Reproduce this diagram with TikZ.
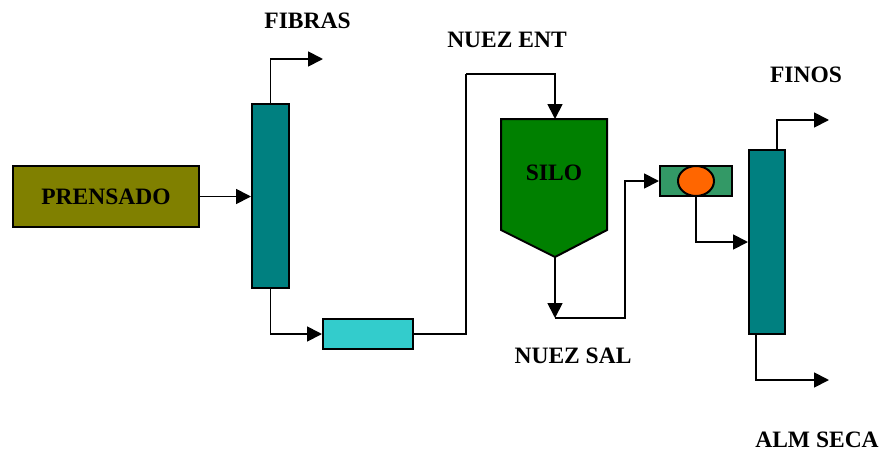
\documentclass[tikz,border=0pt]{standalone}
\usepackage{fontspec}
\setmainfont{Liberation Serif}
\usetikzlibrary{arrows.meta,shapes.geometric}
\definecolor{cOlive}{HTML}{808000}
\definecolor{cTeal}{HTML}{008080}
\definecolor{cCyan}{HTML}{33CCCC}
\definecolor{cSilo}{HTML}{008000}
\definecolor{cSep}{HTML}{339966}
\definecolor{cOrange}{HTML}{FF6600}
\tikzset{
  unit/.style={draw=black, line width=2pt, inner sep=0pt},
  lbl/.style={font=\fontsize{23.5}{28}\selectfont\bfseries, inner sep=0pt, anchor=base},
  conn/.style={line width=1.8pt, -{Triangle[length=15pt,width=15pt]}},
  plain/.style={line width=1.8pt},
}
\begin{document}
\begin{tikzpicture}[x=1pt,y=-1pt]
\useasboundingbox (0,0) rectangle (886,453);
% units
\node[unit, fill=cOlive, minimum width=186pt, minimum height=61pt] (prensado) at (106,196.5) {};
\node[lbl] (prensadoT) at (106,204) {PRENSADO};
\node[unit, fill=cTeal, minimum width=37pt, minimum height=184pt] (col1) at (270.5,196) {};
\node[unit, fill=cCyan, minimum width=90pt, minimum height=30pt] (cyan) at (368,334) {};
% silo
\draw[line width=2pt, fill=cSilo] (501,119) -- (607,119) -- (607,230) -- (555,257) -- (501,230) -- cycle;
\coordinate (silotop) at (555,119);
\coordinate (silobot) at (555,257);
\node[lbl] (siloT) at (554,180.7) {SILO};
% separator
\node[unit, fill=cSep, minimum width=72pt, minimum height=30pt] (sep) at (696,181) {};
\node[draw=black, line width=2pt, fill=cOrange, ellipse, inner sep=0pt, minimum width=36pt, minimum height=30pt] (ell) at (696,181) {};
\node[unit, fill=cTeal, minimum width=36pt, minimum height=184pt] (col2) at (767,242) {};
% free ends
\coordinate (fibEnd) at (323,59);
\coordinate (j1) at (466,74);
\coordinate (nsal) at (555,318);
\coordinate (j2) at (625,250);
\coordinate (finEnd) at (829,120);
\coordinate (almEnd) at (829,380);
% connectors
\draw[conn] (prensado.east) -- (prensado.east -| col1.west);
\draw[conn] (col1.north) |- (fibEnd);
\draw[conn] (col1.south) |- (cyan.west);
\draw[plain] (cyan.east) -| (j1);
\draw[conn] (j1) -| (silotop);
\draw[conn] (silobot) -- (nsal);
\draw[plain] (nsal) -| (j2);
\draw[conn] (j2) |- (sep.west);
\draw[conn] (ell.south) |- (col2.west);
\draw[conn] ([xshift=-9pt]col2.north east) |- (finEnd);
\draw[conn] ([xshift=8pt]col2.south west) |- (almEnd);
% labels
\node[lbl] (fibras) at (307.5,28.3) {FIBRAS};
\node[lbl] (nent) at (507,47.3) {NUEZ ENT};
\node[lbl] (nsalT) at (573,363.3) {NUEZ SAL};
\node[lbl] (finos) at (806,82.3) {FINOS};
\node[lbl] (alm) at (817,447.3) {ALM SECA};
\end{tikzpicture}
\end{document}
